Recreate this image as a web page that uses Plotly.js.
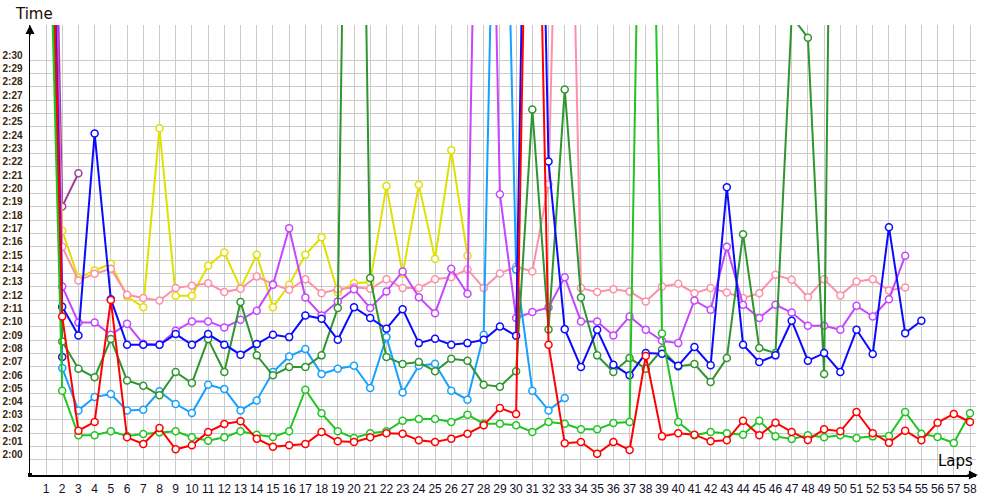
<!DOCTYPE html>
<html>
<head>
<meta charset="utf-8">
<script src="https://cdn.plot.ly/plotly-3.0.1.min.js"></script>
<style>html,body{margin:0;padding:0;background:#fff;}#chart{width:1000px;height:500px;}</style>
</head>
<body>
<div id="chart"></div>
<script>
// Lap numbers
const laps = Array.from({length: 58}, (_, i) => i + 1);
// Y tick values (seconds) and labels
const yTickVals = [120,121,122,123,124,125,126,127,128,129,130,131,132,133,134,135,136,137,138,139,140,141,142,143,144,145,146,147,148,149,150];
const yTickText = ["2:00","2:01","2:02","2:03","2:04","2:05","2:06","2:07","2:08","2:09","2:10","2:11","2:12","2:13","2:14","2:15","2:16","2:17","2:18","2:19","2:20","2:21","2:22","2:23","2:24","2:25","2:26","2:27","2:28","2:29","2:30"];
const xTickText = laps.map(String);

// Lap times in seconds, per driver (lap 1 onward)
const red = [180,130.77,122.2,122.85,132.0,121.7,121.2,122.4,120.8,121.1,122.1,122.7,122.9,121.6,121.0,121.1,121.2,122.1,121.4,121.35,121.7,122.0,121.97,121.47,121.35,121.6,121.97,122.6,123.9,123.45,190,128.65,121.25,121.35,120.47,121.35,120.75,127.8,121.77,122.0,121.9,121.4,121.47,122.95,121.85,122.8,122.1,121.5,122.3,122.15,123.6,122.0,121.3,122.2,121.47,122.8,123.45,122.85];
const green = [172,125.2,121.85,121.85,122.15,121.8,121.95,122.07,122.15,121.7,121.45,121.7,122.15,121.9,121.72,122.15,125.27,123.5,122.15,121.65,122.0,122.15,122.95,123.07,123.07,122.85,123.4,122.72,122.72,122.6,122.1,122.85,122.72,122.3,122.3,122.77,122.85,194,129.5,122.85,121.85,122.1,122.0,121.9,122.95,121.77,121.57,121.85,121.7,121.85,121.65,121.77,121.8,123.6,121.97,121.72,121.27,123.5];
const darkGreen = [175,128.9,126.85,126.2,129.07,125.97,125.57,124.85,126.6,125.77,129.07,126.6,131.85,127.85,126.35,126.97,126.97,127.85,131.4,213,133.65,127.72,127.2,127.35,126.65,127.6,127.45,125.65,125.5,126.65,146.3,129.8,147.8,132.2,127.85,126.6,127.65,126.85,128.27,127.02,127.2,125.85,127.65,136.95,128.4,128.02,153.3,151.7,126.45,230];
const lightBlue = [177,126.9,123.72,124.72,124.95,123.72,123.77,125.15,124.2,123.52,125.65,125.32,123.72,124.47,126.6,127.77,128.32,126.45,126.85,127.07,125.4,129.22,125.07,127.07,127.22,125.2,124.52,129.4,187,134.3,125.2,123.72,124.65];
const blue = [184,131.5,129.35,144.5,132.07,128.65,128.65,128.65,129.45,128.65,129.45,128.65,127.9,128.7,129.4,129.22,130.85,130.6,129.02,131.47,130.65,129.85,131.32,128.77,129.1,128.65,128.77,129.02,130.02,129.32,200,142.4,129.82,126.97,129.77,127.15,126.35,128.02,127.97,127.07,128.47,127.1,140.47,128.65,127.35,127.85,130.45,127.45,128.02,126.6,129.77,127.95,137.47,129.52,130.45];
const purple = [195,133.02,130.32,130.32,129.4,130.22,128.72,128.65,129.7,130.4,130.4,129.95,130.52,131.2,133.15,137.4,132.2,130.85,131.9,132.82,131.4,132.65,134.15,132.22,131.02,134.35,132.47,199,139.95,130.65,131.1,131.45,133.72,130.4,130.4,129.35,130.77,129.77,128.95,128.77,131.97,131.27,136.0,131.65,130.65,131.65,131.07,130.07,130.07,129.77,131.57,130.77,132.07,135.32];
const pink = [187,136.0,133.47,133.97,134.35,132.4,132.15,131.97,132.9,133.07,133.27,132.6,132.85,133.77,133.2,132.77,133.57,132.52,132.82,132.97,132.85,133.57,132.9,132.9,133.57,133.72,134.32,132.9,134.0,134.52,134.15,140.7,190,132.9,132.6,132.82,132.65,131.9,133.02,133.22,132.52,132.9,132.57,132.15,132.52,133.9,133.52,132.22,133.57,132.35,133.4,133.57,132.72,132.95];
const yellow = [178,137.2,133.65,134.22,134.72,132.27,131.47,144.9,132.32,132.32,134.57,135.57,132.9,135.4,131.47,133.15,135.4,136.72,132.57,133.27,133.35,140.57,133.97,140.65,135.1,143.25,135.32];
const darkPurple = [198,139.02,141.52];
const navy = [176,127.72];

const seriesList = [
  {data: darkPurple, color: '#a03ca0'},
  {data: navy, color: '#1c1ca0'},
  {data: yellow, color: '#e0e000'},
  {data: pink, color: '#ff8fa8'},
  {data: purple, color: '#c646ff'},
  {data: lightBlue, color: '#16a0ff'},
  {data: darkGreen, color: '#2e962e'},
  {data: blue, color: '#0a0aff'},
  {data: green, color: '#22c422'},
  {data: red, color: '#ff0000'}
];

const traces = seriesList.map(s => ({
  type: 'scatter',
  mode: 'lines+markers',
  x: laps.slice(0, s.data.length),
  y: s.data,
  line: {color: s.color, width: 2},
  marker: {symbol: 'circle', size: 7, color: '#ffffff', line: {color: s.color, width: 1.5}},
  showlegend: false,
  hoverinfo: 'skip'
}));

const layout = {
  width: 1000, height: 500,
  margin: {l: 30, r: 24, t: 25, b: 25, pad: 0},
  paper_bgcolor: '#ffffff', plot_bgcolor: '#ffffff',
  showlegend: false,
  xaxis: {
    range: [0.013, 58.37],
    tickvals: laps, ticktext: xTickText,
    showgrid: true, gridcolor: '#cbcbcb', gridwidth: 1,
    zeroline: false,
    showline: true, linecolor: '#000000', linewidth: 1.5,
    ticks: '', ticklabelstandoff: 2,
    tickfont: {family: 'Liberation Sans, Arial, sans-serif', size: 12, color: '#10102a'},
    fixedrange: true
  },
  yaxis: {
    range: [118.87, 152.65],
    tickvals: yTickVals, ticktext: yTickText,
    showgrid: true, gridcolor: '#cbcbcb', gridwidth: 1,
    zeroline: false,
    showline: true, linecolor: '#000000', linewidth: 1.5,
    ticks: '', ticklabelstandoff: 4, ticklabelshift: -5,
    tickfont: {family: 'Liberation Sans, Arial, sans-serif', size: 10, color: '#3a2608', weight: 'bold'},
    fixedrange: true
  },
  annotations: [
    {xref: 'paper', yref: 'paper', x: -0.018, y: 1.0244, xanchor: 'left', yanchor: 'middle', showarrow: false,
     text: 'Time', font: {family: 'DejaVu Sans, sans-serif', size: 15, color: '#1a0c00'}},
    {xref: 'paper', yref: 'paper', x: 0.999, y: 0.031, xanchor: 'right', yanchor: 'middle', showarrow: false,
     text: 'Laps', font: {family: 'DejaVu Sans, sans-serif', size: 15, color: '#000000'}},
    {xref: 'paper', yref: 'paper', x: 0, y: 1, ax: 0, ay: 12, axref: 'pixel', ayref: 'pixel', showarrow: true,
     arrowhead: 2, arrowsize: 1.2, arrowwidth: 1.5, arrowcolor: '#000000', text: ''},
    {xref: 'paper', yref: 'paper', x: 1.002, y: 0, ax: -12, ay: 0, axref: 'pixel', ayref: 'pixel', showarrow: true,
     arrowhead: 2, arrowsize: 1.2, arrowwidth: 1.5, arrowcolor: '#000000', text: ''}
  ],
  shapes: [
    {type: 'rect', xref: 'paper', yref: 'paper', xsizemode: 'pixel', ysizemode: 'pixel',
     xanchor: 0, yanchor: 0, x0: -2, x1: 2, y0: -2, y1: 2, fillcolor: '#000000', line: {width: 0}}
  ]
};

Plotly.newPlot('chart', traces, layout, {staticPlot: true, displayModeBar: false});
</script>
</body>
</html>
